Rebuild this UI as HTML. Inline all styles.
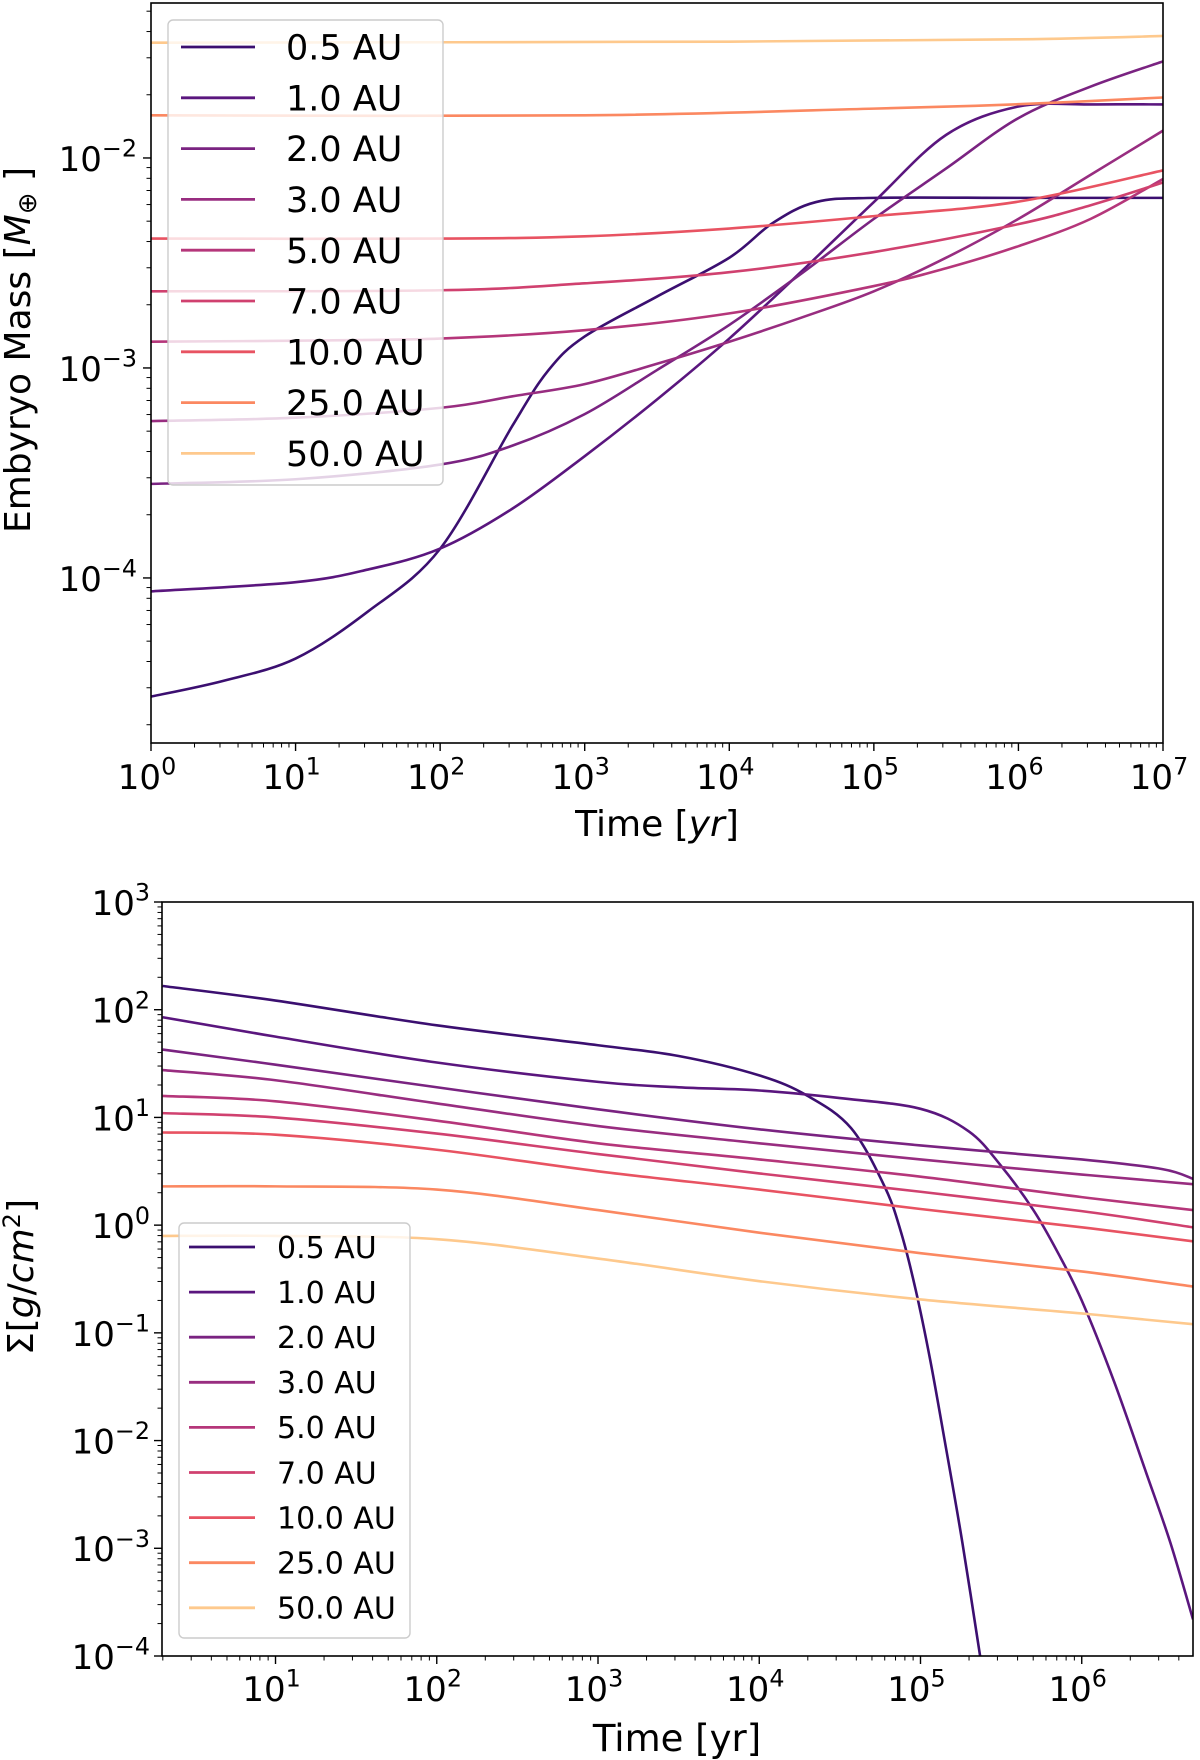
<!DOCTYPE html>
<html><head><meta charset="utf-8"><style>
html,body{margin:0;padding:0;background:#fff;}
svg{display:block;font-family:"DejaVu Sans","Liberation Sans",sans-serif;}
</style></head><body>
<svg id="fig" width="1200" height="1760" viewBox="0 0 1200 1760" xmlns="http://www.w3.org/2000/svg">
<g id="topchart"></g>
<g id="botchart"></g>
</svg>
<script>
// ---- data (log10 values) ----
const labels = ["0.5 AU","1.0 AU","2.0 AU","3.0 AU","5.0 AU","7.0 AU","10.0 AU","25.0 AU","50.0 AU"];
const colors = ["#3b0f70","#5a167e","#7a2381","#982d80","#b5367a","#d0416f","#e85362","#fb8861","#fec98d"];
// top: embryo mass, x = log10(t), y = log10(M)
const massX = [
 [0,0.5,1,1.5,2,2.5,2.75,3,3.5,4,4.3,4.6,5,6,7],
 [0,1,1.5,2,2.5,3,3.5,4,4.5,5,5.5,6,6.5,7],
 [0,1,2,2.5,3,3.5,4,4.5,5,5.5,6,6.5,7],
 [0,1,2,2.5,3,3.5,4,4.5,5,5.5,6,6.5,7],
 [0,1,2,3,4,5,5.5,6,6.5,7],
 [0,2,3,4,5,6,6.5,7],
 [0,2,3,4,5,6,7],
 [0,3,5,6,7],
 [0,4,6,7]
];
const massY = [
 [-4.565,-4.49,-4.384,-4.16,-3.861,-3.275,-3.01,-2.85,-2.66,-2.475,-2.31,-2.21,-2.19,-2.19,-2.19],
 [-4.064,-4.02,-3.96,-3.86,-3.67,-3.42,-3.15,-2.86,-2.54,-2.21,-1.89,-1.755,-1.745,-1.745],
 [-3.552,-3.53,-3.46,-3.37,-3.22,-3.01,-2.795,-2.55,-2.29,-2.05,-1.81,-1.66,-1.54],
 [-3.253,-3.237,-3.19,-3.135,-3.077,-2.98,-2.875,-2.76,-2.635,-2.475,-2.29,-2.08,-1.87],
 [-2.875,-2.87,-2.86,-2.82,-2.74,-2.61,-2.525,-2.42,-2.29,-2.10],
 [-2.635,-2.63,-2.597,-2.544,-2.448,-2.315,-2.225,-2.117],
 [-2.384,-2.384,-2.373,-2.336,-2.277,-2.208,-2.059],
 [-1.797,-1.797,-1.765,-1.744,-1.712],
 [-1.451,-1.446,-1.435,-1.419]
];
// bottom: surface density, x = log10(t), y = log10(Sigma)
const sigX = [
 [0.30,1,2,3,3.5,4,4.3,4.57,4.78,4.88,4.97,5.06,5.15,5.26,5.38],
 [0.30,1,2,3,3.5,4,4.5,5,5.3,5.5,5.7,5.85,6,6.2,6.4,6.55,6.69],
 [0.30,1,2,3,4,5,6,6.5,6.69],
 [0.30,1,2,3,4,5,6,6.69],
 [0.30,1,2,3,4,5,6,6.69],
 [0.30,1,2,3,4,5,6,6.69],
 [0.30,1,2,3,4,5,6,6.69],
 [0.30,1,2,3,4,5,6,6.69],
 [0.30,1,2,3,4,5,6,6.69]
];
const sigY = [
 [2.22,2.085,1.855,1.67,1.57,1.39,1.2,0.9,0.35,-0.07,-0.6,-1.25,-2.0,-2.95,-4.1],
 [1.93,1.75,1.51,1.33,1.28,1.25,1.18,1.08,0.87,0.55,0.14,-0.25,-0.7,-1.45,-2.3,-2.95,-3.66],
 [1.63,1.49,1.28,1.075,0.89,0.74,0.61,0.52,0.43],
 [1.44,1.345,1.13,0.92,0.76,0.61,0.47,0.38],
 [1.2,1.15,0.97,0.76,0.61,0.45,0.26,0.14],
 [1.04,1.0,0.85,0.66,0.48,0.31,0.13,-0.02],
 [0.86,0.84,0.70,0.50,0.33,0.15,-0.02,-0.15],
 [0.36,0.36,0.33,0.14,-0.07,-0.26,-0.43,-0.57],
 [-0.10,-0.10,-0.13,-0.31,-0.52,-0.69,-0.82,-0.92]
];
const topXTicks = [0,1,2,3,4,5,6,7];
const topYTicks = [-4,-3,-2];
const botXTicks = [1,2,3,4,5,6];
const botYTicks = [-4,-3,-2,-1,0,1,2,3];

const NS="http://www.w3.org/2000/svg";
function mk(tag,parent,attrs){const e=document.createElementNS(NS,tag);for(const k in attrs)e.setAttribute(k,attrs[k]);parent.appendChild(e);return e;}
function tsp(parent,txt,attrs){const e=document.createElementNS(NS,"tspan");for(const k in (attrs||{}))e.setAttribute(k,attrs[k]);e.textContent=txt;parent.appendChild(e);return e;}
function pathD(xs,ys,sx,sy){
  const p=xs.map((x,i)=>[sx(x),sy(ys[i])]);
  let d="M"+p[0][0].toFixed(2)+","+p[0][1].toFixed(2);
  for(let i=0;i<p.length-1;i++){
    const p0=p[i-1]||p[i],p1=p[i],p2=p[i+1],p3=p[i+2]||p[i+1];
    const c1=[p1[0]+(p2[0]-p0[0])/6,p1[1]+(p2[1]-p0[1])/6];
    const c2=[p2[0]-(p3[0]-p1[0])/6,p2[1]-(p3[1]-p1[1])/6];
    d+=" C"+c1[0].toFixed(2)+","+c1[1].toFixed(2)+" "+c2[0].toFixed(2)+","+c2[1].toFixed(2)+" "+p2[0].toFixed(2)+","+p2[1].toFixed(2);
  }
  return d;
}
function powLabel(g,x,y,exp,fs,anchor){
  const t=mk("text",g,{x:x,y:y,"font-size":fs,"text-anchor":anchor,fill:"#000"});
  
  
  tsp(t,"10");
  tsp(t,(exp<0?"\u2212"+(-exp):""+exp),{dy:-fs*0.42,"font-size":fs*0.7});
}
function chart(g,cfg){
  const {L,R,T,B,xmin,xmax,ymin,ymax,xs,ys,xt,yt,fs}=cfg;
  const sx=v=>L+(v-xmin)/(xmax-xmin)*(R-L);
  const sy=v=>B-(v-ymin)/(ymax-ymin)*(B-T);
  const defs=mk("defs",g,{});
  const clip=mk("clipPath",defs,{id:cfg.id+"clip"});
  mk("rect",clip,{x:L,y:T,width:R-L,height:B-T});
  const lines=mk("g",g,{"clip-path":"url(#"+cfg.id+"clip)"});
  
  
  for(let i=0;i<labels.length;i++){
    const p=mk("path",lines,{d:pathD(xs[i],ys[i],sx,sy),fill:"none",stroke:colors[i],"stroke-width":2.6,"stroke-linejoin":"round"});
    
    
  }
  const ax=mk("g",g,{});
  
  
  mk("rect",ax,{x:L,y:T,width:R-L,height:B-T,fill:"none",stroke:"#000","stroke-width":1.6});
  for(let d=Math.floor(xmin);d<=Math.ceil(xmax);d++){
    for(let m=1;m<10;m++){
      const v=d+Math.log10(m); if(v<xmin-1e-6||v>xmax+1e-6)continue;
      const X=sx(v);
      mk("line",ax,{x1:X,x2:X,y1:B,y2:B+(m===1?8:4.5),stroke:"#000","stroke-width":m===1?1.4:1});
    }
  }
  for(let d=Math.floor(ymin);d<=Math.ceil(ymax);d++){
    for(let m=1;m<10;m++){
      const v=d+Math.log10(m); if(v<ymin-1e-6||v>ymax+1e-6)continue;
      const Y=sy(v);
      mk("line",ax,{x1:L,x2:L-(m===1?8:4.5),y1:Y,y2:Y,stroke:"#000","stroke-width":m===1?1.4:1});
    }
  }
  xt.forEach(v=>powLabel(ax,sx(v)-4,B+cfg.xlo,v,fs,"middle"));
  yt.forEach(v=>powLabel(ax,L-cfg.ylo,sy(v)+fs*0.38,v,fs,"end"));
}
function legend(g,x,y,w,h,step,fs,lineX,sw,textX,first){
  const lg=mk("g",g,{});
  
  
  mk("rect",lg,{x:x,y:y,width:w,height:h,rx:5,fill:"#fff","fill-opacity":0.8,stroke:"#ccc","stroke-width":1.4});
  labels.forEach((lab,i)=>{
    const e=mk("g",lg,{});
    
    
    const cy=y+first+i*step;
    mk("line",e,{x1:x+lineX,x2:x+lineX+sw,y1:cy,y2:cy,stroke:colors[i],"stroke-width":2.8});
    const t=mk("text",e,{x:x+textX,y:cy+fs*0.36,"font-size":fs,fill:"#000"});
    t.textContent=lab;
  });
}
const topG=document.getElementById("topchart");
chart(topG,{id:"t",L:151,R:1163,T:3,B:743,xmin:0,xmax:7,ymin:-4.786,ymax:-1.262,xs:massX,ys:massY,xt:topXTicks,yt:topYTicks,fs:34,xlo:46,ylo:14});
legend(topG,168,20,275,465,50.8,35,13,74,118,27);
const t1=mk("text",topG,{x:657,y:836,"font-size":36,"text-anchor":"middle",fill:"#000"});


tsp(t1,"Time [");tsp(t1,"yr",{"font-style":"italic"});tsp(t1,"]");
const y1=mk("text",topG,{x:0,y:0,"font-size":36,"text-anchor":"middle",fill:"#000",transform:"translate(30,350) rotate(-90)"});


tsp(y1,"Embyryo Mass [");tsp(y1,"M",{"font-style":"italic"});tsp(y1,"⊕",{"font-size":26,dy:6});tsp(y1," ]",{dy:-6});

const botG=document.getElementById("botchart");
chart(botG,{id:"b",L:162,R:1193,T:902,B:1656,xmin:0.296,xmax:6.69,ymin:-4,ymax:3,xs:sigX,ys:sigY,xt:botXTicks,yt:botYTicks,fs:34,xlo:45,ylo:12});
legend(botG,179,1223,231,415,45.1,30,10,66,98,24);
const t2=mk("text",botG,{x:677,y:1751,"font-size":37,"text-anchor":"middle",fill:"#000"});


t2.textContent='Time [yr]';
const y2=mk("text",botG,{x:0,y:0,"font-size":36,"text-anchor":"middle",fill:"#000",transform:"translate(33,1277) rotate(-90)"});


tsp(y2,"Σ[");tsp(y2,"g",{"font-style":"italic"});tsp(y2,"/");tsp(y2,"cm",{"font-style":"italic"});tsp(y2,"2",{"font-size":24,dy:-13});tsp(y2,"]",{dy:13});
</script>
</body></html>
